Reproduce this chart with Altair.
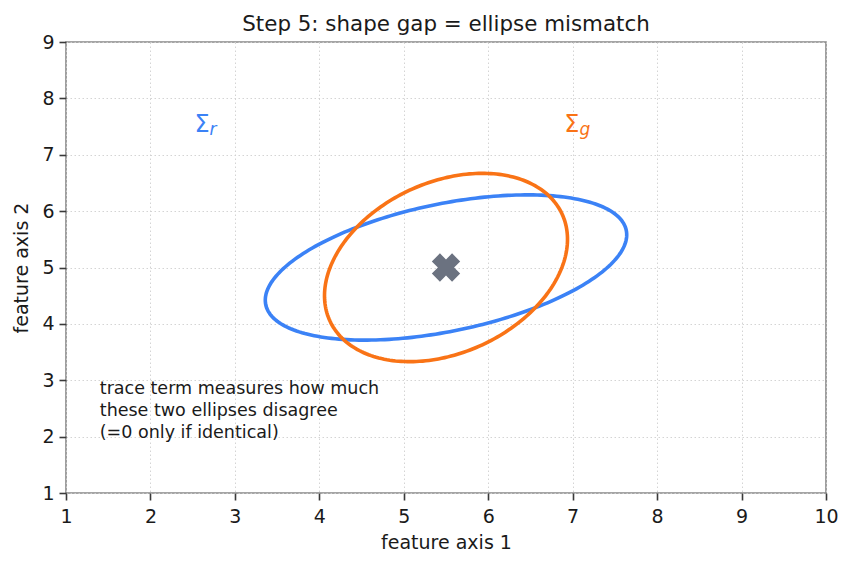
import numpy as np
import pandas as pd
import altair as alt

# ---- data ----
center = [5.5, 5.0]
# shape (covariance-like) matrices of the two ellipses: [s_xx, s_xy, s_yy]
sigma_r = [4.58, 1.24, 1.66]
sigma_g = [2.07, 0.72, 2.79]
ellipse_names = ["r", "g"]
ellipse_colors = ["#3b82f6", "#f97316"]
label_x = [2.70, 7.08]
label_y = [7.40, 7.40]
note_text = "trace term measures how much\nthese two ellipses disagree\n(=0 only if identical)"
note_x = [1.4]
note_y = [2.75]
x_ticks = [1, 2, 3, 4, 5, 6, 7, 8, 9, 10]
y_ticks = [1, 2, 3, 4, 5, 6, 7, 8, 9]
n_pts = 241

FONT = "DejaVu Sans"


def outline(s, name):
    M = np.array([[s[0], s[1]], [s[1], s[2]]])
    vals, vecs = np.linalg.eigh(M)
    t = np.linspace(0, 2 * np.pi, n_pts)
    circ = np.vstack([np.cos(t), np.sin(t)])
    pts = vecs @ (np.sqrt(vals)[:, None] * circ)
    return pd.DataFrame({
        "x": pts[0] + center[0],
        "y": pts[1] + center[1],
        "i": np.arange(n_pts),
        "name": name,
    })


ell = pd.concat([outline(sigma_r, "r"), outline(sigma_g, "g")], ignore_index=True)
labels = pd.DataFrame({"x": label_x, "y": label_y, "name": ellipse_names,
                       "main": ["Σ", "Σ"], "sub": ellipse_names})
ctr = pd.DataFrame({"x": [center[0]], "y": [center[1]]})
note = pd.DataFrame({"x": note_x, "y": note_y, "t": [note_text]})

xs = alt.Scale(domain=[1, 10], nice=False, zero=False)
ys = alt.Scale(domain=[1, 9], nice=False, zero=False)
cs = alt.Scale(domain=ellipse_names, range=ellipse_colors)

xax = alt.Axis(values=x_ticks, title="feature axis 1", format="d", labelPadding=7,
               titlePadding=7, labelFlush=False)
yax = alt.Axis(values=y_ticks, title="feature axis 2", format="d", labelPadding=5,
               titlePadding=10, labelFlush=False)

lines = alt.Chart(ell).mark_line(strokeWidth=3.6).encode(
    x=alt.X("x:Q", scale=xs, axis=xax),
    y=alt.Y("y:Q", scale=ys, axis=yax),
    color=alt.Color("name:N", scale=cs, legend=None),
    detail="name:N",
    order="i:Q",
)

marker = alt.Chart(ctr).mark_point(shape="cross", angle=45, filled=True, size=820,
                                   color="#6b7280", opacity=1).encode(
    x=alt.X("x:Q", scale=xs), y=alt.Y("y:Q", scale=ys))

sig = alt.Chart(labels).mark_text(align="right", baseline="alphabetic", fontSize=24,
                                  font=FONT).encode(
    x=alt.X("x:Q", scale=xs), y=alt.Y("y:Q", scale=ys), text="main:N",
    color=alt.Color("name:N", scale=cs, legend=None))

sub = alt.Chart(labels).mark_text(align="left", baseline="alphabetic", fontSize=17,
                                  fontStyle="italic", font=FONT, dy=3).encode(
    x=alt.X("x:Q", scale=xs), y=alt.Y("y:Q", scale=ys), text="sub:N",
    color=alt.Color("name:N", scale=cs, legend=None))

txt = alt.Chart(note).mark_text(align="left", baseline="alphabetic", fontSize=17.5,
                                lineBreak="\n", lineHeight=21.7, font=FONT,
                                color="#1a1a1a").encode(
    x=alt.X("x:Q", scale=xs), y=alt.Y("y:Q", scale=ys), text="t:N")

chart = alt.layer(lines, marker, sig, sub, txt).properties(
    width=760, height=451,
    title=alt.TitleParams("Step 5: shape gap = ellipse mismatch", fontSize=21.4,
                          font=FONT, fontWeight="normal", color="#1a1a1a",
                          anchor="middle", offset=-2),
    autosize=alt.AutoSizeParams(type="none"),
    padding={"left": 66, "top": 42, "right": 26, "bottom": 74},
).configure_view(
    stroke="#888888", strokeWidth=1.6,
).configure_axis(
    domain=False,
    grid=True, gridColor="#cfcfcf", gridDash=[1.5, 2.5], gridWidth=0.9,
    ticks=True, tickColor="#3a3a3a", tickSize=7, tickWidth=1.6,
    labelFont=FONT, labelFontSize=19, labelColor="#1a1a1a",
    titleFont=FONT, titleFontSize=19, titleFontWeight="normal", titleColor="#1a1a1a",
)

chart.save("out.html", embed_options={"renderer": "svg", "actions": False})
